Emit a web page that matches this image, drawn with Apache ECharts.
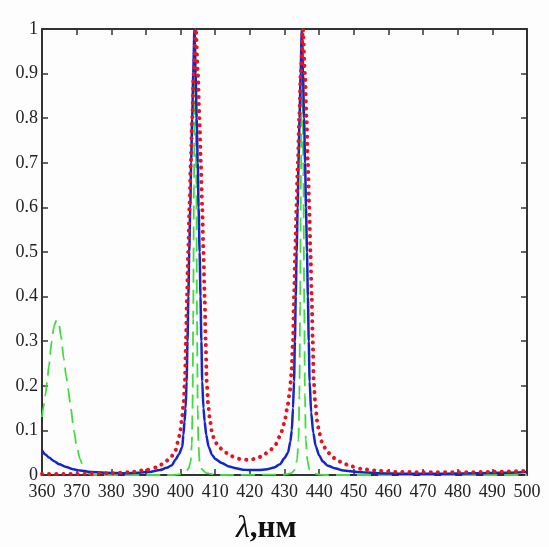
<!DOCTYPE html>
<html>
<head>
<meta charset="utf-8">
<script src="https://cdn.jsdelivr.net/npm/echarts@6/dist/echarts.min.js"></script>
<style>
html,body{margin:0;padding:0;background:#fdfdfd;}
#chart{width:549px;height:547px;}
</style>
</head>
<body>
<div id="chart"></div>
<script>
// ---- Data ----
var xTickLabels = ['360','370','380','390','400','410','420','430','440','450','460','470','480','490','500'];
var yTickLabels = ['0','0.1','0.2','0.3','0.4','0.5','0.6','0.7','0.8','0.9','1'];
var axisTitleSymbol = 'λ';
var axisTitleUnit = ',нм';

// Blue solid curve
var blueX = [360,361,362,363.5,365,367,369,371,374,378,384,388,391,394,396,397.5,398.5,399.5,400.5,400.8,401.15,401.45,401.75,402.0,402.25,402.5,402.8,403.05,403.35,403.65,404.0,404.35,404.65,404.95,405.2,405.5,405.75,406.0,406.25,406.6,406.95,407.4,408.1,409.1,410,411.9,414,416,418,420,422.5,425,427,428.7,430,431,431.7,432.1,432.45,432.75,433.0,433.25,433.5,433.8,434.05,434.35,434.65,435.0,435.35,435.65,435.95,436.2,436.5,436.75,437.0,437.25,437.7,438.3,439.0,440.0,441.1,442.5,444.5,447,451,457,465,475,485,492,500];
var blueY = [0.055,0.046,0.039,0.031,0.024,0.018,0.013,0.010,0.007,0.005,0.004,0.005,0.007,0.011,0.016,0.022,0.034,0.046,0.063,0.09,0.12,0.15,0.21,0.30,0.40,0.50,0.60,0.70,0.80,0.90,1.0,0.90,0.80,0.70,0.60,0.50,0.40,0.30,0.21,0.15,0.12,0.09,0.063,0.045,0.036,0.027,0.019,0.015,0.012,0.011,0.011,0.013,0.017,0.024,0.038,0.050,0.075,0.10,0.15,0.21,0.30,0.40,0.50,0.60,0.70,0.80,0.90,1.0,0.90,0.80,0.70,0.60,0.50,0.40,0.30,0.21,0.14,0.095,0.065,0.044,0.030,0.021,0.015,0.010,0.007,0.004,0.003,0.003,0.004,0.005,0.007];

// Red dotted curve
var redX = [360,370,380,385,390,393,395,397,398.4,399.3,399.85,400.3,400.8,401.25,401.55,401.85,402.2,402.55,402.95,403.35,403.8,404.4,405.0,405.45,405.85,406.25,406.6,406.95,407.25,407.55,408.0,408.5,409.1,409.8,411,412.8,414.5,416,417.6,419.5,421.5,423.5,425.8,427.3,428.7,429.9,430.8,431.5,432.0,432.45,432.75,433.1,433.45,433.85,434.25,434.7,435.3,435.9,436.35,436.75,437.15,437.5,437.85,438.15,438.45,438.9,439.45,440.05,440.75,442,443.5,445,447,449,452,456,462,470,480,490,500];
var redY = [0.002,0.002,0.004,0.006,0.011,0.017,0.025,0.038,0.052,0.075,0.095,0.12,0.155,0.21,0.30,0.40,0.50,0.60,0.70,0.80,0.90,1.0,0.90,0.80,0.70,0.60,0.50,0.40,0.30,0.21,0.155,0.122,0.095,0.077,0.063,0.051,0.043,0.038,0.035,0.034,0.036,0.042,0.055,0.067,0.087,0.115,0.15,0.185,0.23,0.30,0.40,0.50,0.60,0.70,0.80,0.90,1.0,0.90,0.80,0.70,0.60,0.50,0.40,0.30,0.21,0.16,0.12,0.094,0.075,0.057,0.043,0.034,0.026,0.020,0.014,0.010,0.007,0.006,0.006,0.007,0.009];

// Green dashed curve
var greenX = [360,360.5,361,361.5,362,362.8,363.5,364.2,364.8,365.5,366.3,367,367.6,368.3,369.2,370,371,372,373,374,376,398,400,401.3,402.3,402.9,403.25,403.45,403.65,403.85,404.2,404.55,404.75,404.95,405.15,405.5,406.2,407.5,410,412,430,432,433,433.65,434.05,434.3,434.5,434.75,435.1,435.45,435.7,435.9,436.15,436.55,437.2,438.2,440,442,500];
var greenY = [0.13,0.155,0.18,0.21,0.245,0.30,0.335,0.347,0.342,0.31,0.26,0.22,0.19,0.15,0.10,0.065,0.035,0.016,0.006,0.001,0,0,0.002,0.006,0.014,0.03,0.07,0.15,0.35,0.65,1.0,0.65,0.35,0.15,0.07,0.03,0.012,0.004,0.001,0,0.001,0.004,0.012,0.035,0.08,0.18,0.38,0.68,1.0,0.68,0.38,0.18,0.08,0.035,0.012,0.004,0.001,0,0];

function pairs(xs, ys){ var o=[]; for(var i=0;i<xs.length;i++){ o.push([xs[i], ys[i]]); } return o; }

var serif = '"Liberation Serif","DejaVu Serif",serif';
var axisCol = '#333';

var chart = echarts.init(document.getElementById('chart'), null, {renderer:'canvas'});
chart.setOption({
  backgroundColor: '#fdfdfd',
  animation: false,
  grid: {left: 42, right: 22, top: 29, bottom: 72, containLabel: false},
  xAxis: [{
    type: 'value', min: 360, max: 500, interval: 10, position: 'bottom',
    axisLine: {show: true, onZero: false, lineStyle: {color: axisCol, width: 2}},
    axisTick: {show: true, inside: true, length: 6, lineStyle: {color: axisCol, width: 1.5}},
    splitLine: {show: false},
    axisLabel: {margin: 8, fontFamily: serif, fontSize: 18, color: '#222',
      formatter: function(v){ return xTickLabels[Math.round((v-360)/10)]; }}
  },{
    type: 'value', min: 360, max: 500, interval: 10, position: 'top',
    axisLine: {show: true, onZero: false, lineStyle: {color: axisCol, width: 2}},
    axisTick: {show: true, inside: true, length: 6, lineStyle: {color: axisCol, width: 1.5}},
    splitLine: {show: false}, axisLabel: {show: false}
  }],
  yAxis: [{
    type: 'value', min: 0, max: 1, interval: 0.1, position: 'left',
    axisLine: {show: true, onZero: false, lineStyle: {color: axisCol, width: 2}},
    axisTick: {show: true, inside: true, length: 6, lineStyle: {color: axisCol, width: 1.5}},
    splitLine: {show: false},
    axisLabel: {margin: 4, fontFamily: serif, fontSize: 18, color: '#222',
      formatter: function(v){ return yTickLabels[Math.round(v*10)]; }}
  },{
    type: 'value', min: 0, max: 1, interval: 0.1, position: 'right',
    axisLine: {show: true, onZero: false, lineStyle: {color: axisCol, width: 2}},
    axisTick: {show: true, inside: true, length: 6, lineStyle: {color: axisCol, width: 1.5}},
    splitLine: {show: false}, axisLabel: {show: false}
  }],
  series: [{
    type: 'line', xAxisIndex: 0, yAxisIndex: 0, data: pairs(greenX, greenY),
    showSymbol: false, smooth: 0.25, smoothMonotone: 'x', clip: true,
    lineStyle: {color: '#3fdc3f', width: 1.8, type: [14, 7]}
  },{
    type: 'line', xAxisIndex: 0, yAxisIndex: 0, data: pairs(blueX, blueY),
    showSymbol: false, smooth: 0.25, smoothMonotone: 'x', clip: true,
    lineStyle: {color: '#1226cc', width: 2.5}
  },{
    type: 'line', xAxisIndex: 0, yAxisIndex: 0, data: pairs(redX, redY),
    showSymbol: false, smooth: 0.25, smoothMonotone: 'x', clip: true,
    lineStyle: {color: '#e6141c', width: 4, type: [0.1, 7], cap: 'round'}
  }],
  graphic: [{
    type: 'text', left: 236, top: 513,
    style: {
      text: '{l|' + axisTitleSymbol + '}{n|' + axisTitleUnit + '}',
      rich: {
        l: {fontFamily: serif, fontStyle: 'italic', fontSize: 32, fill: '#111'},
        n: {fontFamily: serif, fontWeight: 'bold', fontSize: 31, fill: '#111'}
      }
    }
  }]
});
</script>
</body>
</html>
